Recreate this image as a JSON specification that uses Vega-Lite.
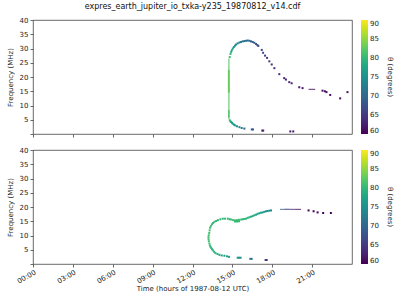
{
  "$schema": "https://vega.github.io/schema/vega-lite/v6.json",
  "padding": {"left": 5, "top": 2, "right": 5, "bottom": 2},
  "background": "white",
  "config": {
    "font": "DejaVu Sans",
    "view": {"stroke": "#444", "strokeWidth": 0.8},
    "axis": {"grid": false, "domain": false, "tickColor": "#444", "tickSize": 3, "tickWidth": 0.8, "labelFontSize": 7, "labelColor": "#222", "titleFontSize": 7, "titleFontWeight": "normal", "titleColor": "#222", "labelPadding": 2, "labelOverlap": false, "labelFlush": false},
    "legend": {"gradientLength": 114, "gradientThickness": 7, "gradientStrokeWidth": 0, "labelFontSize": 7, "labelColor": "#222", "labelOverlap": false, "titleFontSize": 7, "titleFontWeight": "normal", "titleColor": "#222", "titleOrient": "right", "titleAngle": 270, "titleAnchor": "middle", "titleBaseline": "bottom", "titlePadding": 8, "offset": 9, "labelOffset": 4},
    "concat": {"spacing": 7}
  },
  "datasets": {
    "dots": [
      {"p": "North", "t": 14.80, "f": 27.0, "th": 81},
      {"p": "North", "t": 14.86, "f": 28.1, "th": 80},
      {"p": "North", "t": 14.91, "f": 28.8, "th": 79},
      {"p": "North", "t": 14.96, "f": 29.4, "th": 78},
      {"p": "North", "t": 15.03, "f": 30.0, "th": 77},
      {"p": "North", "t": 15.11, "f": 30.5, "th": 76},
      {"p": "North", "t": 15.20, "f": 31.0, "th": 75},
      {"p": "North", "t": 15.28, "f": 31.4, "th": 74},
      {"p": "North", "t": 15.40, "f": 31.8, "th": 73},
      {"p": "North", "t": 15.53, "f": 32.1, "th": 73},
      {"p": "North", "t": 15.65, "f": 32.3, "th": 72},
      {"p": "North", "t": 15.78, "f": 32.5, "th": 72},
      {"p": "North", "t": 15.90, "f": 32.6, "th": 71},
      {"p": "North", "t": 16.03, "f": 32.7, "th": 71},
      {"p": "North", "t": 16.15, "f": 32.8, "th": 70},
      {"p": "North", "t": 16.28, "f": 32.7, "th": 70},
      {"p": "North", "t": 16.40, "f": 32.5, "th": 69},
      {"p": "North", "t": 16.53, "f": 32.3, "th": 69},
      {"p": "North", "t": 16.65, "f": 32.0, "th": 68},
      {"p": "North", "t": 16.78, "f": 31.6, "th": 68},
      {"p": "North", "t": 16.88, "f": 31.2, "th": 67},
      {"p": "North", "t": 16.95, "f": 30.9, "th": 67},
      {"p": "North", "t": 17.21, "f": 29.5, "th": 66},
      {"p": "North", "t": 17.31, "f": 28.5, "th": 66},
      {"p": "North", "t": 17.46, "f": 27.5, "th": 65},
      {"p": "North", "t": 17.61, "f": 26.7, "th": 65},
      {"p": "North", "t": 17.78, "f": 25.5, "th": 65},
      {"p": "North", "t": 17.96, "f": 24.4, "th": 64},
      {"p": "North", "t": 18.16, "f": 23.1, "th": 64},
      {"p": "North", "t": 18.53, "f": 21.0, "th": 64},
      {"p": "North", "t": 18.90, "f": 19.6, "th": 63},
      {"p": "North", "t": 19.03, "f": 19.1, "th": 63},
      {"p": "North", "t": 19.28, "f": 18.2, "th": 63},
      {"p": "North", "t": 19.46, "f": 17.8, "th": 63},
      {"p": "North", "t": 20.03, "f": 16.4, "th": 62},
      {"p": "North", "t": 20.28, "f": 16.1, "th": 62},
      {"p": "North", "t": 21.78, "f": 15.2, "th": 61},
      {"p": "North", "t": 21.96, "f": 15.0, "th": 61},
      {"p": "North", "t": 22.08, "f": 14.7, "th": 61},
      {"p": "North", "t": 22.36, "f": 13.7, "th": 61},
      {"p": "North", "t": 23.11, "f": 12.5, "th": 61},
      {"p": "North", "t": 23.66, "f": 14.7, "th": 61},
      {"p": "North", "t": 14.81, "f": 4.8, "th": 80},
      {"p": "North", "t": 14.86, "f": 4.4, "th": 79},
      {"p": "North", "t": 14.91, "f": 4.2, "th": 78},
      {"p": "North", "t": 14.97, "f": 3.9, "th": 77},
      {"p": "North", "t": 15.03, "f": 3.6, "th": 77},
      {"p": "North", "t": 15.12, "f": 3.3, "th": 76},
      {"p": "North", "t": 15.21, "f": 3.0, "th": 76},
      {"p": "North", "t": 15.35, "f": 2.7, "th": 75},
      {"p": "North", "t": 15.53, "f": 2.4, "th": 74},
      {"p": "North", "t": 15.70, "f": 2.1, "th": 72},
      {"p": "North", "t": 15.90, "f": 1.9, "th": 70},
      {"p": "North", "t": 16.46, "f": 1.6, "th": 68},
      {"p": "North", "t": 16.55, "f": 1.6, "th": 68},
      {"p": "North", "t": 17.25, "f": 1.2, "th": 63},
      {"p": "North", "t": 17.32, "f": 1.2, "th": 63},
      {"p": "North", "t": 19.36, "f": 0.9, "th": 62},
      {"p": "North", "t": 19.58, "f": 0.9, "th": 62},

      {"p": "South", "t": 14.28, "f": 15.9, "th": 80},
      {"p": "South", "t": 14.10, "f": 15.7, "th": 80},
      {"p": "South", "t": 13.91, "f": 15.4, "th": 80},
      {"p": "South", "t": 13.78, "f": 15.1, "th": 80},
      {"p": "South", "t": 13.65, "f": 14.8, "th": 80},
      {"p": "South", "t": 13.55, "f": 14.4, "th": 80},
      {"p": "South", "t": 13.46, "f": 13.9, "th": 80},
      {"p": "South", "t": 13.38, "f": 13.3, "th": 81},
      {"p": "South", "t": 13.33, "f": 12.7, "th": 81},
      {"p": "South", "t": 13.29, "f": 11.8, "th": 81},
      {"p": "South", "t": 13.26, "f": 10.9, "th": 81},
      {"p": "South", "t": 13.22, "f": 10.1, "th": 81},
      {"p": "South", "t": 13.20, "f": 9.4, "th": 81},
      {"p": "South", "t": 13.21, "f": 8.7, "th": 81},
      {"p": "South", "t": 13.23, "f": 8.0, "th": 81},
      {"p": "South", "t": 13.27, "f": 7.2, "th": 81},
      {"p": "South", "t": 13.31, "f": 6.5, "th": 80},
      {"p": "South", "t": 13.36, "f": 6.0, "th": 80},
      {"p": "South", "t": 13.41, "f": 5.6, "th": 80},
      {"p": "South", "t": 13.47, "f": 5.2, "th": 80},
      {"p": "South", "t": 13.53, "f": 4.8, "th": 80},
      {"p": "South", "t": 13.63, "f": 4.3, "th": 79},
      {"p": "South", "t": 13.73, "f": 3.8, "th": 79},
      {"p": "South", "t": 13.88, "f": 3.5, "th": 79},
      {"p": "South", "t": 14.03, "f": 3.2, "th": 78},
      {"p": "South", "t": 14.20, "f": 3.0, "th": 78},
      {"p": "South", "t": 14.40, "f": 2.9, "th": 77},
      {"p": "South", "t": 14.60, "f": 2.7, "th": 77},
      {"p": "South", "t": 14.75, "f": 2.5, "th": 77},
      {"p": "South", "t": 15.40, "f": 2.2, "th": 76},
      {"p": "South", "t": 15.50, "f": 2.2, "th": 76},
      {"p": "South", "t": 15.62, "f": 2.2, "th": 75},
      {"p": "South", "t": 16.35, "f": 1.8, "th": 72},
      {"p": "South", "t": 16.45, "f": 1.8, "th": 72},
      {"p": "South", "t": 17.50, "f": 1.4, "th": 65},
      {"p": "South", "t": 17.58, "f": 1.4, "th": 65},
      {"p": "South", "t": 14.45, "f": 15.9, "th": 80},
      {"p": "South", "t": 14.66, "f": 15.9, "th": 80},
      {"p": "South", "t": 14.80, "f": 15.7, "th": 80},
      {"p": "South", "t": 14.91, "f": 15.6, "th": 81},
      {"p": "South", "t": 15.05, "f": 15.4, "th": 81},
      {"p": "South", "t": 15.20, "f": 15.3, "th": 81},
      {"p": "South", "t": 15.35, "f": 15.4, "th": 81},
      {"p": "South", "t": 15.50, "f": 15.5, "th": 81},
      {"p": "South", "t": 15.20, "f": 14.9, "th": 80},
      {"p": "South", "t": 15.35, "f": 14.9, "th": 80},
      {"p": "South", "t": 15.50, "f": 15.0, "th": 80},
      {"p": "South", "t": 15.66, "f": 15.6, "th": 80},
      {"p": "South", "t": 15.80, "f": 15.7, "th": 80},
      {"p": "South", "t": 15.92, "f": 15.8, "th": 80},
      {"p": "South", "t": 16.03, "f": 15.9, "th": 80},
      {"p": "South", "t": 16.15, "f": 16.2, "th": 79},
      {"p": "South", "t": 16.28, "f": 16.4, "th": 79},
      {"p": "South", "t": 16.40, "f": 16.6, "th": 79},
      {"p": "South", "t": 16.53, "f": 16.8, "th": 78},
      {"p": "South", "t": 16.65, "f": 17.1, "th": 78},
      {"p": "South", "t": 16.78, "f": 17.3, "th": 78},
      {"p": "South", "t": 16.90, "f": 17.6, "th": 77},
      {"p": "South", "t": 17.03, "f": 17.8, "th": 77},
      {"p": "South", "t": 17.15, "f": 18.0, "th": 77},
      {"p": "South", "t": 17.28, "f": 18.1, "th": 76},
      {"p": "South", "t": 17.40, "f": 18.3, "th": 76},
      {"p": "South", "t": 17.53, "f": 18.5, "th": 76},
      {"p": "South", "t": 17.65, "f": 18.6, "th": 75},
      {"p": "South", "t": 17.78, "f": 18.7, "th": 75},
      {"p": "South", "t": 17.91, "f": 18.8, "th": 74},
      {"p": "South", "t": 20.73, "f": 18.8, "th": 60},
      {"p": "South", "t": 21.11, "f": 18.5, "th": 60},
      {"p": "South", "t": 21.41, "f": 18.1, "th": 60},
      {"p": "South", "t": 21.83, "f": 17.9, "th": 60},
      {"p": "South", "t": 22.41, "f": 17.9, "th": 60}
    ],
    "segs": [
      {"p": "North", "t0": 14.70, "t1": 14.78, "f0": 5.2, "f1": 26.5, "th": 82},
      {"p": "North", "t0": 14.66, "t1": 14.80, "f0": 14.5, "f1": 22.5, "th": 83},
      {"p": "North", "t0": 14.68, "t1": 14.79, "f0": 5.8, "f1": 8.4, "th": 82},
      {"p": "North", "t0": 20.73, "t1": 21.23, "f0": 15.55, "f1": 15.85, "th": 60},
      {"p": "South", "t0": 18.58, "t1": 18.90, "f0": 19.05, "f1": 19.35, "th": 70},
      {"p": "South", "t0": 18.90, "t1": 19.30, "f0": 19.05, "f1": 19.35, "th": 66},
      {"p": "South", "t0": 19.30, "t1": 19.70, "f0": 19.05, "f1": 19.35, "th": 63},
      {"p": "South", "t0": 19.70, "t1": 20.16, "f0": 19.05, "f1": 19.35, "th": 61}
    ]
  },
  "vconcat": [
    {
      "title": {"text": "expres_earth_jupiter_io_txka-y235_19870812_v14.cdf", "fontSize": 8, "fontWeight": "normal", "color": "#111", "frame": "group", "anchor": "middle", "offset": 5},
      "width": 319, "height": 114,
      "layer": [
        {
          "data": {"name": "segs"},
          "transform": [{"filter": "datum.p === 'North'"}],
          "mark": {"type": "rect"},
          "encoding": {
            "x": {"field": "t0", "type": "quantitative", "scale": {"domain": [0, 24], "nice": false}, "axis": {"values": [0, 3, 6, 9, 12, 15, 18, 21], "labels": false, "title": null}},
            "x2": {"field": "t1"},
            "y": {"field": "f0", "type": "quantitative", "scale": {"domain": [0, 40], "nice": false}, "axis": {"tickCount": 8, "labelOverlap": false, "labelExpr": "datum.value == 0 ? '' : datum.label", "title": "Frequency (MHz)", "titlePadding": 6}},
            "y2": {"field": "f1"},
            "color": {"field": "th", "type": "quantitative", "scale": {"scheme": "viridis", "domain": [60, 90]}, "legend": {"title": "θ (degrees)", "values": [60, 65, 70, 75, 80, 85, 90]}}
          }
        },
        {
          "data": {"name": "dots"},
          "transform": [{"filter": "datum.p === 'North'"}],
          "mark": {"type": "square", "size": 4, "opacity": 1},
          "encoding": {
            "x": {"field": "t", "type": "quantitative"},
            "y": {"field": "f", "type": "quantitative"},
            "color": {"field": "th", "type": "quantitative"}
          }
        },
        {
          "mark": {"type": "text", "fontSize": 7, "align": "left", "baseline": "middle", "color": "#111"},
          "encoding": {"x": {"datum": 0.9}, "y": {"datum": 36.3}, "text": {"value": "North"}}
        }
      ]
    },
    {
      "width": 319, "height": 114,
      "layer": [
        {
          "data": {"name": "segs"},
          "transform": [{"filter": "datum.p === 'South'"}],
          "mark": {"type": "rect"},
          "encoding": {
            "x": {"field": "t0", "type": "quantitative", "scale": {"domain": [0, 24], "nice": false}, "axis": {"values": [0, 3, 6, 9, 12, 15, 18, 21], "labelExpr": "(datum.value < 10 ? '0' : '') + datum.value + ':00'", "labelAngle": -30, "labelAlign": "right", "labelBaseline": "top", "labelPadding": 1, "title": "Time (hours of 1987-08-12 UTC)", "titlePadding": 0}},
            "x2": {"field": "t1"},
            "y": {"field": "f0", "type": "quantitative", "scale": {"domain": [0, 40], "nice": false}, "axis": {"tickCount": 8, "labelOverlap": false, "labelExpr": "datum.value == 0 ? '' : datum.label", "title": "Frequency (MHz)", "titlePadding": 6}},
            "y2": {"field": "f1"},
            "color": {"field": "th", "type": "quantitative", "scale": {"scheme": "viridis", "domain": [60, 90]}, "legend": {"title": "θ (degrees)", "values": [60, 65, 70, 75, 80, 85, 90]}}
          }
        },
        {
          "data": {"name": "dots"},
          "transform": [{"filter": "datum.p === 'South'"}],
          "mark": {"type": "square", "size": 4, "opacity": 1},
          "encoding": {
            "x": {"field": "t", "type": "quantitative"},
            "y": {"field": "f", "type": "quantitative"},
            "color": {"field": "th", "type": "quantitative"}
          }
        },
        {
          "mark": {"type": "text", "fontSize": 7, "align": "left", "baseline": "middle", "color": "#111"},
          "encoding": {"x": {"datum": 0.9}, "y": {"datum": 36.3}, "text": {"value": "South"}}
        }
      ]
    }
  ],
  "resolve": {"scale": {"color": "independent"}, "legend": {"color": "independent"}}
}
